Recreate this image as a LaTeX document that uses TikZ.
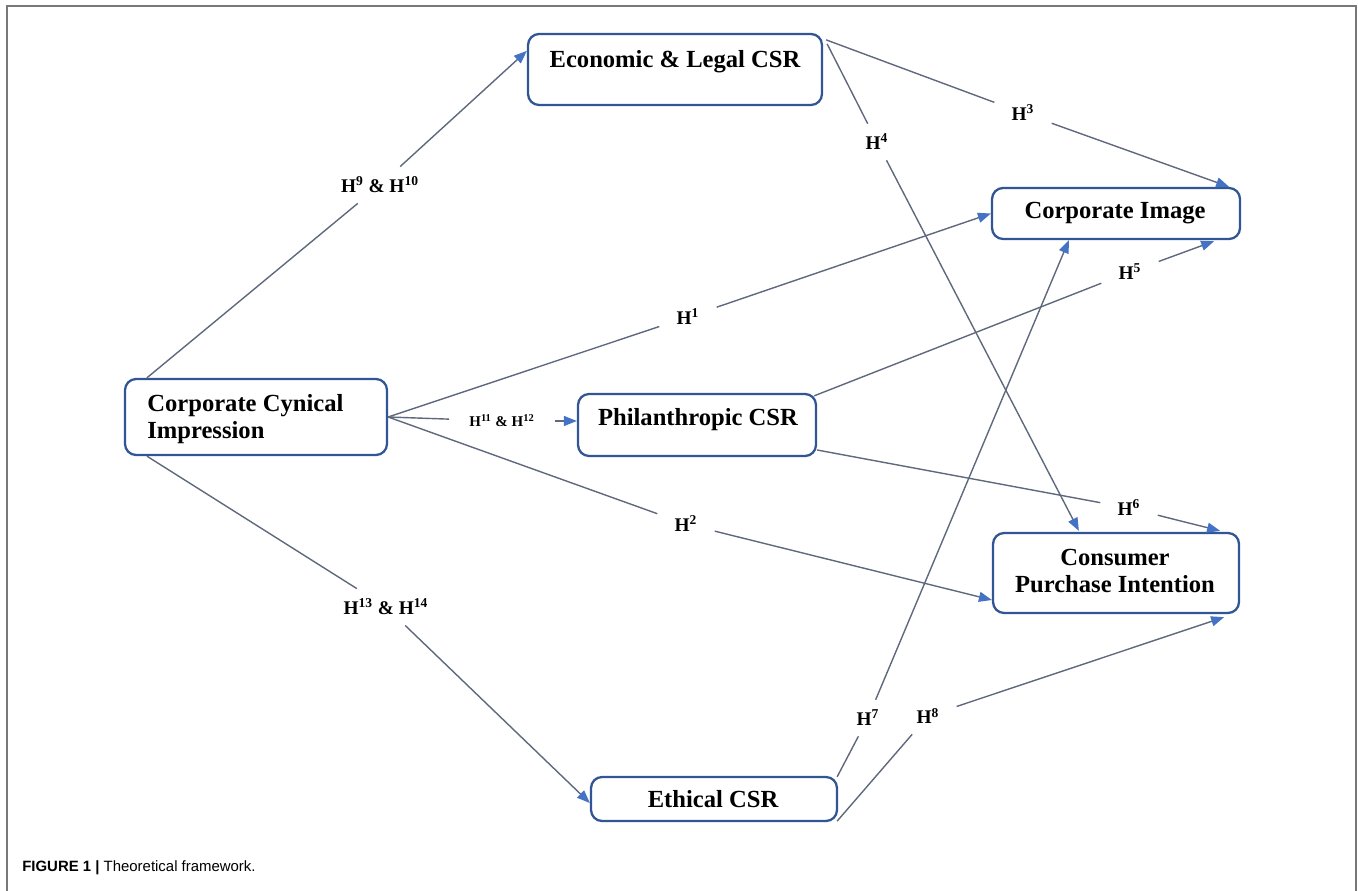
\documentclass[tikz,border=0pt]{standalone}
\usepackage{fontspec}
\setmainfont{Liberation Serif}
\newfontfamily\capfont{Liberation Sans}
\usetikzlibrary{arrows.meta,calc}
\definecolor{linegray}{RGB}{95,105,125}
\definecolor{boxblue}{RGB}{50,85,150}
\definecolor{tipblue}{RGB}{68,114,196}
\definecolor{framegray}{RGB}{120,120,120}
\begin{document}
\begin{tikzpicture}[x=0.02cm,y=-0.02cm,
  box/.style={draw=boxblue, line width=1.3pt, rounded corners=0.22cm, fill=white, inner sep=0pt},
  boxtext/.style={font=\fontsize{14}{15}\selectfont\bfseries, inner sep=0pt},
  conn/.style={draw=linegray, line width=0.8pt},
  arr/.style={conn, -{Triangle[length=0.26cm,width=0.2cm,fill=tipblue,color=tipblue]}},
  hyp/.style={font=\fontsize{11}{13}\selectfont\bfseries, inner xsep=0.34cm, inner ysep=0.2cm},
  hypsmall/.style={font=\fontsize{8.5}{10}\selectfont\bfseries, inner xsep=0.4cm, inner ysep=0.2cm},
]
\useasboundingbox (0,0) rectangle (1358,891);
% frame
\draw[framegray, line width=1.2pt] (7,891) -- (7,6) -- (1356,6) -- (1356,891);

% boxes
\node[box, minimum width=5.88cm, minimum height=1.42cm] (econ) at (675,69.5) {};
\node[boxtext] (econT) at (675,62) {Economic \& Legal CSR};
\node[box, minimum width=4.96cm, minimum height=1.02cm] (img) at (1116,213.5) {};
\node[boxtext] (imgT) at (1115,213) {Corporate Image};
\node[box, minimum width=5.24cm, minimum height=1.52cm] (cci) at (256,417) {};
\node[boxtext, anchor=west, align=left] (cciT) at (147,419) {Corporate Cynical\\Impression};
\node[box, minimum width=4.76cm, minimum height=1.24cm] (phil) at (697,425) {};
\node[boxtext] (philT) at (698,420) {Philanthropic CSR};
\node[box, minimum width=4.92cm, minimum height=1.6cm] (cons) at (1116,573) {};
\node[boxtext, align=center] (consT) at (1115,571) {Consumer\\Purchase Intention};
\node[box, minimum width=4.92cm, minimum height=0.88cm] (eth) at (714,799) {};
\node[boxtext] (ethT) at (713,799) {Ethical CSR};

% hypothesis labels
\node[hyp] (h910) at (380,185) {H\textsuperscript{9} \& H\textsuperscript{10}};
\node[hyp] (h3) at (1023,113) {H\textsuperscript{3}};
\node[hyp] (h4) at (877,142) {H\textsuperscript{4}};
\node[hyp] (h1) at (688,317) {H\textsuperscript{1}};
\node[hypsmall] (h1112) at (502,421) {H\textsuperscript{11} \& H\textsuperscript{12}};
\node[hyp] (h2) at (686,524) {H\textsuperscript{2}};
\node[hyp] (h5) at (1130,272) {H\textsuperscript{5}};
\node[hyp] (h6) at (1129,508) {H\textsuperscript{6}};
\node[hyp] (h1314) at (386,607) {H\textsuperscript{13} \& H\textsuperscript{14}};
\node[hyp] (h7) at (868,718) {H\textsuperscript{7}};
\node[hyp] (h8) at (928,716) {H\textsuperscript{8}};

% connectors
\draw[conn] ($(cci.north west)+(23,0)$) -- (h910);
\draw[arr] (h910) -- ($(econ.north west)+(0,18)$);
\draw[conn] ($(econ.north east)+(3,7)$) -- (h3);
\draw[arr] (h3) -- ($(img.north east)+(-12,0)$);
\draw[conn] ($(econ.north east)+(4,11)$) -- (h4);
\draw[arr] (h4) -- ($(cons.north west)+(87,-1)$);
\draw[conn] (cci.east) -- (h1);
\draw[arr] (h1) -- (img.west);
\draw[conn] (cci.east) -- (h1112);
\draw[arr] (h1112) -- ($(phil.west)+(0,-4)$);
\draw[conn] (cci.east) -- (h2);
\draw[arr] (h2) -- ($(cons.west)+(0,27)$);
\draw[conn] ($(phil.north east)+(-3,3)$) -- (h5);
\draw[arr] (h5) -- ($(img.south east)+(-27,1)$);
\draw[conn] ($(phil.east)+(0,25)$) -- (h6);
\draw[arr] (h6) -- ($(cons.north east)+(-20,-1)$);
\draw[conn] ($(cci.south west)+(23,0)$) -- (h1314);
\draw[arr] (h1314) -- ($(eth.west)+(0,4)$);
\draw[conn] ($(eth.north east)+(-1,1)$) -- (h7);
\draw[arr] (h7) -- ($(img.south west)+(78,0)$);
\draw[conn] ($(eth.south east)+(-1,-1)$) -- (h8);
\draw[arr] (h8) -- ($(cons.south east)+(-16,3)$);

% caption
\node[anchor=west, font=\capfont\fontsize{8.5}{10}\selectfont, inner sep=0pt] (cap) at (22,868) {\textbf{FIGURE 1 |} Theoretical framework.};
\end{tikzpicture}
\end{document}
